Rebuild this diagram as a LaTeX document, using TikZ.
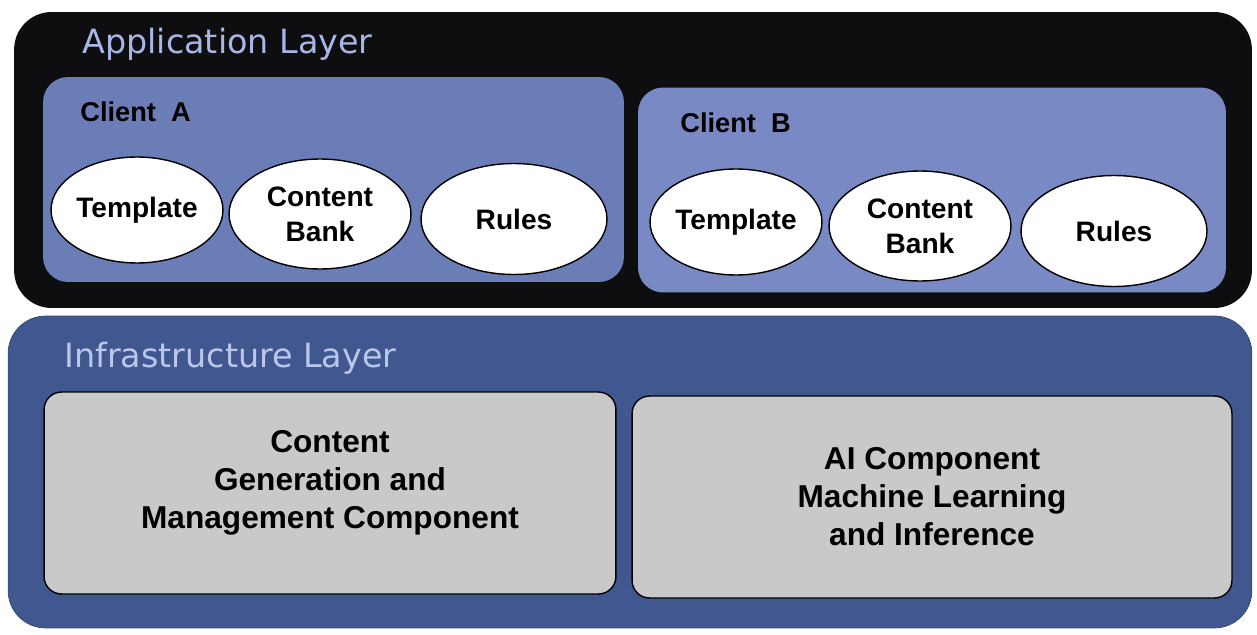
\documentclass[tikz,border=0pt]{standalone}
\usepackage{fontspec}
\setmainfont{Liberation Sans}
\newfontfamily\layerfont{DejaVu Sans}
\usepackage{tikz}
\usetikzlibrary{shapes.geometric, positioning}

\definecolor{appblack}{HTML}{0E0E10}
\definecolor{titleblue}{HTML}{A8B6E6}
\definecolor{clientA}{HTML}{6B7DB6}
\definecolor{clientB}{HTML}{7989C4}
\definecolor{infrablue}{HTML}{40588F}
\definecolor{infratitle}{HTML}{BAC6EA}
\definecolor{boxgrey}{HTML}{C9C9C9}

\begin{document}
\begin{tikzpicture}[
    x=0.02cm, y=-0.02cm,
    layer/.style={rounded corners=0.75cm, inner sep=0pt},
    client/.style={rounded corners=0.5cm, inner sep=0pt, minimum height=4.1cm},
    clientname/.style={anchor=west, inner sep=0pt, font=\fontsize{15.5}{19}\selectfont\bfseries},
    layername/.style={anchor=west, inner sep=0pt, font=\layerfont\fontsize{19}{23}\selectfont},
    part/.style={ellipse, draw=black, thick, fill=white, inner sep=0pt, align=center, font=\fontsize{16}{20}\selectfont\bfseries},
    tmpl/.style={part, minimum width=3.44cm, minimum height=2.12cm},
    bank/.style={part, minimum width=3.64cm, minimum height=2.2cm},
    rulespart/.style={part, minimum width=3.72cm, minimum height=2.22cm},
    component/.style={draw=black, thick, rounded corners=0.35cm, fill=boxgrey, align=center, minimum height=4.04cm, font=\fontsize{18}{21.6}\selectfont\bfseries}
]
    \useasboundingbox (0,0) rectangle (1257,635);

    % Application Layer
    \node[layer, fill=appblack, minimum width=24.76cm, minimum height=5.92cm] (app) at (633,160) {};
    \node[layername, text=titleblue] (appname) at (82,44) {Application Layer};

    % Client A
    \node[client, fill=clientA, minimum width=11.62cm] (clienta) at (333.5,179.5) {};
    \node[clientname] (clientaname) at (80,112) {Client\ \ A};
    \node[tmpl] (tmpla) at (137,210) {Template};
    \node[bank] (banka) at (320,214) {Content\\Bank};
    \node[rulespart] (rulesa) at (514,219) {Rules};

    % Client B
    \node[client, fill=clientB, minimum width=11.76cm] (clientb) at (932,190) {};
    \node[clientname] (clientbname) at (680,123) {Client\ \ B};
    \node[tmpl] (tmplb) at (736,222) {Template};
    \node[bank] (bankb) at (920,226) {Content\\Bank};
    \node[rulespart] (rulesb) at (1114,231) {Rules};

    % Infrastructure Layer
    \node[layer, fill=infrablue, draw=infrablue!80!black, minimum width=24.88cm, minimum height=6.24cm] (infra) at (630,472) {};
    \node[layername, text=infratitle] (infraname) at (64,358) {Infrastructure Layer};

    % Components
    \node[component, minimum width=11.44cm] (contentgen) at (330,493) {Content\\Generation and\\Management Component\\[-0.22cm]};
    \node[component, minimum width=12cm] (aicomp) at (932,497) {AI Component\\Machine Learning\\and Inference};

\end{tikzpicture}
\end{document}
